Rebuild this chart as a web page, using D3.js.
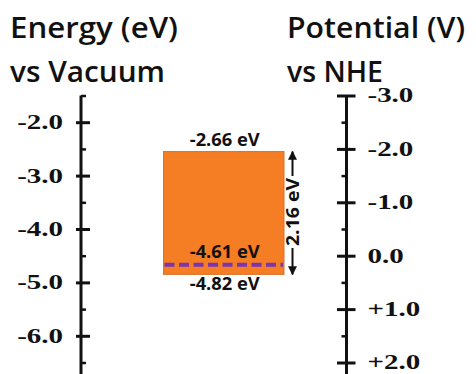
<!DOCTYPE html>
<html lang="en">
<head>
  <meta charset="UTF-8">
  <title>Band diagram</title>
  <script src="https://d3js.org/d3.v7.min.js"></script>
  <style>
    body { margin: 0; background: #fff; }
  </style>
</head>
<body>
  <svg width="476" height="374"></svg>
  <script>
    // axis ticks
    const energyTicks = [-2, -3, -4, -5, -6];
    const energyMinor = [-1.5, -2.5, -3.5, -4.5, -5.5, -6.5];
    const nheTicks = [-3, -2, -1, 0, 1, 2];
    const nheMinor = [-2.5, -1.5, -0.5, 0.5, 1.5];

    // band edges as drawn and their labels
    const bandEdges = [-2.55, -4.85];
    const fermiLevel = -4.67;
    const levelLabels = ["-2.66 eV", "-4.61 eV", "-4.82 eV"];
    const gapLabel = "2.16 eV";

    const titles = [
      { lines: ["Energy (eV)", "vs Vacuum"], widths: [168, 155], x: 10 },
      { lines: ["Potential (V)", "vs NHE"], widths: [178, 96], x: 287 }
    ];

    const svg = d3.select("svg");

    const yE = d3.scaleLinear().domain([-1.5, -6.5]).range([95.5, 362.5]);
    const yV = d3.scaleLinear().domain([-3, 2]).range([95.5, 362.5]);

    const leftX = 81, rightX = 346.5;
    const boxX0 = 163.5, boxX1 = 284;

    // titles
    titles.forEach(t => {
      t.lines.forEach((line, i) => {
        svg.append("text")
          .attr("x", t.x)
          .attr("y", 37.5 + i * 44)
          .attr("font-family", "'Open Sans', Lato, sans-serif")
          .attr("font-weight", 600)
          .attr("font-size", 28.5)
          .attr("fill", "#111")
          .attr("textLength", t.widths[i])
          .attr("lengthAdjust", "spacingAndGlyphs")
          .text(line);
      });
    });

    function styleLabels(g, stretch) {
      g.selectAll(".tick text")
        .attr("font-family", "'Liberation Serif', 'Times New Roman', serif")
        .attr("font-weight", "bold")
        .attr("font-size", 20)
        .attr("fill", "#111")
        .attr("transform", function() {
          const x = +d3.select(this).attr("x");
          return `translate(${x},0) scale(${stretch},1) translate(${-x},0)`;
        });
    }

    // energy axis (left)
    const gL = svg.append("g").attr("transform", `translate(${leftX},0)`);
    gL.append("line")
      .attr("y1", yE(-1.5)).attr("y2", 374)
      .attr("stroke", "#111").attr("stroke-width", 3);
    gL.append("g")
      .call(d3.axisLeft(yE).tickValues(energyTicks).tickSize(0).tickPadding(18)
        .tickFormat(d => d.toFixed(1)))
      .call(g => g.select(".domain").remove())
      .call(g => g.selectAll(".tick line").attr("x1", -5).attr("x2", 9)
        .attr("stroke", "#111").attr("stroke-width", 3))
      .call(g => styleLabels(g, 1.45));
    gL.append("g")
      .call(d3.axisLeft(yE).tickValues(energyMinor).tickSize(-5).tickFormat(""))
      .call(g => g.select(".domain").remove())
      .call(g => g.selectAll(".tick line").attr("stroke", "#111").attr("stroke-width", 2.5));

    // NHE axis (right)
    const gR = svg.append("g").attr("transform", `translate(${rightX},0)`);
    gR.append("line")
      .attr("y1", yV(-3)).attr("y2", 374)
      .attr("stroke", "#111").attr("stroke-width", 3);
    gR.append("g")
      .call(d3.axisRight(yV).tickValues(nheTicks).tickSize(0).tickPadding(21)
        .tickFormat(d => (d > 0 ? "+" : "") + d.toFixed(1)))
      .call(g => g.select(".domain").remove())
      .call(g => g.selectAll(".tick line").attr("x1", -9.5).attr("x2", 9)
        .attr("stroke", "#111").attr("stroke-width", 3))
      .call(g => styleLabels(g, 1.45));
    gR.append("g")
      .call(d3.axisRight(yV).tickValues(nheMinor).tickSize(-5).tickFormat(""))
      .call(g => g.select(".domain").remove())
      .call(g => g.selectAll(".tick line").attr("stroke", "#111").attr("stroke-width", 2.5));

    // band box
    svg.append("rect")
      .attr("x", boxX0)
      .attr("y", yE(bandEdges[0]))
      .attr("width", boxX1 - boxX0)
      .attr("height", yE(bandEdges[1]) - yE(bandEdges[0]))
      .attr("fill", "#F57D23")
      .attr("stroke", "#D8732C")
      .attr("stroke-width", 1);

    // fermi level
    svg.append("line")
      .attr("x1", boxX0 + 1).attr("x2", boxX1 - 1)
      .attr("y1", yE(fermiLevel)).attr("y2", yE(fermiLevel))
      .attr("stroke", "#7B35B0")
      .attr("stroke-width", 4)
      .attr("stroke-dasharray", "10,4.5");

    const labelFont = "'Open Sans', 'Liberation Sans', Arial, sans-serif";
    const cx = (boxX0 + boxX1) / 2 + 1;
    const labelY = [yE(bandEdges[0]) - 6, yE(fermiLevel) - 7, yE(bandEdges[1]) + 15.5];
    svg.selectAll(".lvl")
      .data(levelLabels)
      .join("text")
        .attr("class", "lvl")
        .attr("x", cx)
        .attr("y", (d, i) => labelY[i])
        .attr("text-anchor", "middle")
        .attr("font-family", labelFont)
        .attr("font-weight", "bold")
        .attr("font-size", 17)
        .attr("fill", "#111")
        .attr("textLength", 70)
        .attr("lengthAdjust", "spacingAndGlyphs")
        .text(d => d);

    // gap arrow
    const ax = 292.5;
    const aTop = yE(bandEdges[0]), aBot = yE(bandEdges[1]);
    const aMid = (aTop + aBot) / 2 - 1;
    svg.append("defs").append("marker")
      .attr("id", "head")
      .attr("viewBox", "0 0 10 10")
      .attr("refX", 9).attr("refY", 5)
      .attr("markerWidth", 4.5).attr("markerHeight", 4.5)
      .attr("markerUnits", "strokeWidth")
      .attr("orient", "auto")
      .append("path").attr("d", "M0,0L10,5L0,10Z").attr("fill", "#111");

    svg.append("line")
      .attr("x1", ax).attr("x2", ax)
      .attr("y1", aMid - 36).attr("y2", aTop)
      .attr("stroke", "#111").attr("stroke-width", 2)
      .attr("marker-end", "url(#head)");
    svg.append("line")
      .attr("x1", ax).attr("x2", ax)
      .attr("y1", aMid + 36).attr("y2", aBot)
      .attr("stroke", "#111").attr("stroke-width", 2)
      .attr("marker-end", "url(#head)");
    svg.append("text")
      .attr("transform", `translate(${ax + 6},${aMid}) rotate(-90)`)
      .attr("text-anchor", "middle")
      .attr("font-family", labelFont)
      .attr("font-weight", "bold")
      .attr("font-size", 17)
      .attr("fill", "#111")
      .attr("textLength", 68)
      .attr("lengthAdjust", "spacingAndGlyphs")
      .text(gapLabel);
  </script>
</body>
</html>
